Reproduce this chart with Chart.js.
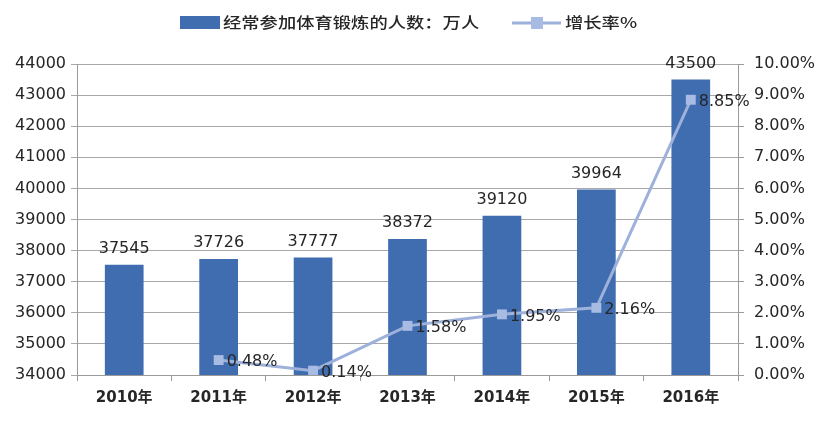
<!DOCTYPE html>
<html>
<head>
<meta charset="utf-8">
<script src="https://cdn.jsdelivr.net/npm/chart.js@4/dist/chart.umd.min.js"></script>
<style>
  html,body{margin:0;padding:0;background:#fff;}
  #wrap{width:828px;height:422px;position:relative;}
</style>
</head>
<body>
<div id="wrap"><canvas id="c" width="828" height="422"></canvas></div>
<script>
const categories = ['2010年','2011年','2012年','2013年','2014年','2015年','2016年'];
const people = [37545, 37726, 37777, 38372, 39120, 39964, 43500];
const growth = [null, 0.48, 0.14, 1.58, 1.95, 2.16, 8.85];
const peopleLabel = '经常参加体育锻炼的人数：万人';
const growthLabel = '增长率%';
const leftTicks = [34000, 44000, 1000];
const rightTicks = [0, 10, 1];

const BAR = '#3f6db0';
const LINE = '#9db1da';
const MARK = '#a8bbe2';
const TXT = '#262626';
const NUMFAM = '"DejaVu Sans", "Noto Sans CJK SC", sans-serif';
const NUMFONT = '16px ' + NUMFAM;
const CJK = '"Noto Sans CJK SC", "DejaVu Sans", sans-serif';

const labelPlugin = {
  id: 'labels',
  afterDatasetsDraw(chart) {
    const ctx = chart.ctx;
    ctx.save();
    ctx.font = NUMFONT;
    ctx.fillStyle = TXT;
    chart.getDatasetMeta(0).data.forEach((el, i) => {
      ctx.textAlign = 'center';
      ctx.textBaseline = 'bottom';
      ctx.fillText(String(people[i]), el.x, el.y - 8);
    });
    chart.getDatasetMeta(1).data.forEach((el, i) => {
      if (growth[i] == null) return;
      ctx.textAlign = 'left';
      ctx.textBaseline = 'middle';
      ctx.fillText(growth[i].toFixed(2) + '%', el.x + 8, el.y + 2);
    });
    ctx.restore();
  }
};

const legendPlugin = {
  id: 'customLegend',
  afterDraw(chart) {
    const ctx = chart.ctx;
    ctx.save();
    ctx.fillStyle = BAR;
    ctx.fillRect(180, 16, 40, 13);
    ctx.fillStyle = TXT;
    ctx.textBaseline = 'middle';
    ctx.textAlign = 'left';
    ctx.font = '500 15px ' + CJK;
    ctx.save();
    ctx.translate(223, 22);
    ctx.scale(1.22, 1);
    ctx.fillText(chart.data.datasets[0].label, 0, 0);
    ctx.restore();
    ctx.strokeStyle = LINE;
    ctx.lineWidth = 3;
    ctx.beginPath();
    ctx.moveTo(512, 23);
    ctx.lineTo(561, 23);
    ctx.stroke();
    ctx.fillStyle = MARK;
    ctx.fillRect(531, 17, 12, 12);
    ctx.fillStyle = TXT;
    ctx.save();
    ctx.translate(565, 22);
    ctx.scale(1.22, 1);
    ctx.fillText(chart.data.datasets[1].label, 0, 0);
    ctx.restore();
    ctx.restore();
  }
};

new Chart(document.getElementById('c'), {
  type: 'bar',
  data: {
    labels: categories,
    datasets: [
      {
        type: 'bar',
        label: peopleLabel,
        data: people,
        backgroundColor: BAR,
        borderWidth: 0,
        barPercentage: 0.41,
        categoryPercentage: 1.0,
        yAxisID: 'y',
        order: 2
      },
      {
        type: 'line',
        label: growthLabel,
        data: growth,
        borderColor: LINE,
        borderWidth: 3,
        pointStyle: 'rect',
        pointRadius: 7,
        pointBackgroundColor: MARK,
        pointBorderColor: MARK,
        pointBorderWidth: 0,
        tension: 0,
        spanGaps: false,
        yAxisID: 'y1',
        order: 1
      }
    ]
  },
  options: {
    responsive: false,
    animation: false,
    devicePixelRatio: 1,
    layout: { padding: { top: 64, left: 0, right: 0, bottom: 0 } },
    plugins: { legend: { display: false }, tooltip: { enabled: false } },
    scales: {
      x: {
        offset: true,
        grid: { display: true, drawOnChartArea: false, drawTicks: true, tickLength: 6, color: '#9a9a9a', offset: true },
        border: { display: true, color: '#9a9a9a', width: 1 },
        ticks: { color: TXT, font: { family: NUMFAM, size: 15, weight: 'bold' }, padding: 8, maxRotation: 0 },
        afterFit(s) { s.height = 47; }
      },
      y: {
        position: 'left',
        min: leftTicks[0], max: leftTicks[1],
        ticks: { stepSize: leftTicks[2], color: TXT, font: { family: NUMFAM, size: 16 }, padding: 5,
          callback: v => String(v) },
        grid: { color: '#a8a8a8', lineWidth: 1, tickLength: 6, drawTicks: true },
        border: { display: true, color: '#9a9a9a' },
        afterFit(s) { s.width = 77; }
      },
      y1: {
        position: 'right',
        min: rightTicks[0], max: rightTicks[1],
        ticks: { stepSize: rightTicks[2], color: TXT, font: { family: NUMFAM, size: 16 }, padding: 10,
          callback: v => Number(v).toFixed(2) + '%' },
        grid: { drawOnChartArea: false, drawTicks: true, tickLength: 6, color: '#9a9a9a' },
        border: { display: true, color: '#9a9a9a' },
        afterFit(s) { s.width = 90; }
      }
    }
  },
  plugins: [labelPlugin, legendPlugin]
});
</script>
</body>
</html>
